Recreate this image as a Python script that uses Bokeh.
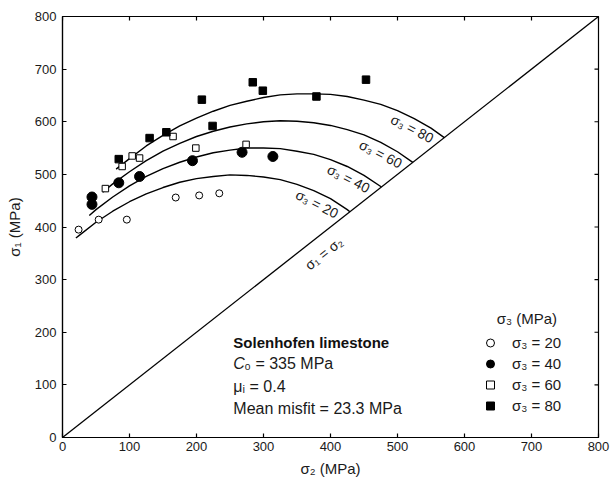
import math
from bokeh.plotting import figure
from bokeh.models import Range1d, Label, Legend, LegendItem, FixedTicker
from bokeh.embed import file_html
from bokeh.resources import INLINE

# ---- data (MPa) ----
# measured points, sigma3 = 20, 40, 60, 80
s2_pts_20 = [24, 54, 96, 169, 204, 234]
s1_pts_20 = [395, 414, 414, 456, 460, 464]
s2_pts_40 = [44, 44, 84, 115, 194, 268, 314]
s1_pts_40 = [457, 443, 484, 496, 526, 542, 534]
s2_pts_60 = [64, 89, 104, 115, 165, 199, 274]
s1_pts_60 = [473, 515, 535, 531, 572, 550, 557]
s2_pts_80 = [84, 130, 155, 208, 224, 284, 299, 379, 453]
s1_pts_80 = [529, 569, 580, 642, 592, 675, 659, 648, 680]

# fitted failure curves
s2_fit_20 = [20, 25, 50, 75, 100, 125, 150, 175, 200, 225, 250, 275, 300, 325, 350, 375, 400, 425, 428.9]
s1_fit_20 = [379, 384, 409, 430, 448, 463, 475, 485, 492, 496, 499, 498, 495, 490, 481, 469, 454, 433, 428.9]
s2_fit_40 = [40, 50, 75, 100, 125, 150, 175, 200, 225, 250, 275, 300, 325, 350, 375, 400, 425, 450, 475, 475.9]
s1_fit_40 = [422, 433, 457, 478, 496, 511, 523, 533, 541, 546, 550, 550, 549, 544, 538, 528, 515, 498, 477, 475.9]
s2_fit_60 = [60, 75, 100, 125, 150, 175, 200, 225, 250, 275, 300, 325, 350, 375, 400, 425, 450, 475, 500, 522.8]
s1_fit_60 = [466, 482, 505, 526, 544, 559, 572, 582, 590, 596, 600, 602, 601, 598, 593, 585, 575, 561, 543, 522.8]
s2_fit_80 = [80, 100, 125, 150, 175, 200, 225, 250, 275, 300, 325, 350, 375, 400, 425, 450, 475, 500, 525, 550, 569.8]
s1_fit_80 = [510, 530, 554, 574, 592, 607, 620, 631, 639, 646, 651, 653, 653, 652, 648, 641, 633, 621, 606, 588, 569.8]

diag = [0, 800]
ticks = [0, 100, 200, 300, 400, 500, 600, 700, 800]
legend_labels = ["σ₃ = 20", "σ₃ = 40", "σ₃ = 60", "σ₃ = 80"]
curve_labels = ["σ₃ = 20", "σ₃ = 40", "σ₃ = 60", "σ₃ = 80"]

FONT = "Liberation Sans"
INK = "#1a1a1a"

p = figure(width=613, height=489, x_range=Range1d(0, 800), y_range=Range1d(0, 800),
           output_backend="svg", toolbar_location=None,
           min_border_left=62, min_border_right=15, min_border_top=16, min_border_bottom=52,
           x_axis_label="σ₂ (MPa)", y_axis_label="σ₁ (MPa)")
p.grid.visible = False
p.outline_line_color = "black"
p.outline_line_width = 1.2
p.background_fill_color = "white"
p.border_fill_color = "white"

for ax in (p.xaxis[0], p.yaxis[0]):
    ax.ticker = FixedTicker(ticks=ticks)
    ax.major_tick_in = 4
    ax.major_tick_out = 0
    ax.minor_tick_line_color = None
    ax.axis_line_color = "black"
    ax.axis_line_width = 1.2
    ax.major_tick_line_color = "black"
    ax.major_tick_line_width = 1.2
    ax.major_label_text_font = FONT
    ax.major_label_text_color = INK
    ax.major_label_text_font_size = "13px"
    ax.axis_label_text_font = FONT
    ax.axis_label_text_font_style = "normal"
    ax.axis_label_text_color = INK
    ax.axis_label_text_font_size = "15px"
p.xaxis[0].major_label_standoff = 4
p.xaxis[0].axis_label_standoff = 6
p.yaxis[0].major_label_standoff = 6
p.yaxis[0].axis_label_standoff = 9

# inward ticks on the top and right frame edges (clipped to the frame)
top_y = [p.y_range.end] * len(ticks)
right_x = [p.x_range.end] * len(ticks)
p.scatter(ticks, top_y, marker="dash", size=8, angle=math.pi / 2, line_color="black", line_width=1.2)
p.scatter(right_x, ticks, marker="dash", size=8, line_color="black", line_width=1.2)

# sigma1 = sigma2 line
p.line(diag, diag, line_color="black", line_width=1.3)

# fitted curves
for xs, ys in [(s2_fit_20, s1_fit_20), (s2_fit_40, s1_fit_40), (s2_fit_60, s1_fit_60), (s2_fit_80, s1_fit_80)]:
    p.line(xs, ys, line_color="black", line_width=1.4)

# points
r20 = p.scatter(s2_pts_20, s1_pts_20, marker="circle", size=7, fill_color="white", line_color="black", line_width=1)
r40 = p.scatter(s2_pts_40, s1_pts_40, marker="circle", size=10, fill_color="black", line_color="black")
r60 = p.scatter(s2_pts_60, s1_pts_60, marker="square", size=6.5, fill_color="white", line_color="black", line_width=1)
r80 = p.scatter(s2_pts_80, s1_pts_80, marker="square", size=7.5, fill_color="black", line_color="black")

leg = Legend(items=[LegendItem(label=legend_labels[i], renderers=[r]) for i, r in enumerate([r20, r40, r60, r80])],
             location=(418, 21), padding=0, margin=0, border_line_color=None, background_fill_alpha=0,
             label_text_font=FONT, label_text_font_size="15px", label_text_color=INK,
             glyph_width=20, glyph_height=21, label_height=21, label_standoff=12, spacing=0)
p.add_layout(leg)

p.add_layout(Label(x=648, y=226, text="σ₃ (MPa)", text_font=FONT, text_font_size="15px",
                   text_color=INK, text_baseline="middle", text_align="left"))

# curve labels
ang = math.radians(-27)
for (cx, cy), t in zip([(380, 444), (427, 492), (475, 539), (522, 587)], curve_labels):
    p.add_layout(Label(x=cx, y=cy, text=t, angle=ang, text_font=FONT, text_font_size="14px",
                       text_color=INK, text_align="center", text_baseline="middle"))

p.add_layout(Label(x=390, y=350, text="σ₁ = σ₂", angle=math.atan2(421, 536), text_font=FONT,
                   text_font_size="14px", text_color=INK, text_align="center", text_baseline="middle"))

# annotation block
p.add_layout(Label(x=255, y=181, text="Solenhofen limestone", text_font=FONT, text_font_size="15px",
                   text_font_style="bold", text_color="#111111", text_baseline="middle"))
p.add_layout(Label(x=255, y=141, text="C", text_font=FONT, text_font_size="16px",
                   text_font_style="italic", text_color=INK, text_baseline="middle"))
p.add_layout(Label(x=255, y=141, x_offset=11, text="₀ = 335 MPa", text_font=FONT, text_font_size="16px",
                   text_color=INK, text_baseline="middle"))
p.add_layout(Label(x=255, y=97, text="μᵢ = 0.4", text_font=FONT, text_font_size="16px",
                   text_color=INK, text_baseline="middle"))
p.add_layout(Label(x=255, y=55, text="Mean misfit = 23.3 MPa", text_font=FONT, text_font_size="16px",
                   text_color=INK, text_baseline="middle"))

open("out.html", "w").write(file_html(p, INLINE))
